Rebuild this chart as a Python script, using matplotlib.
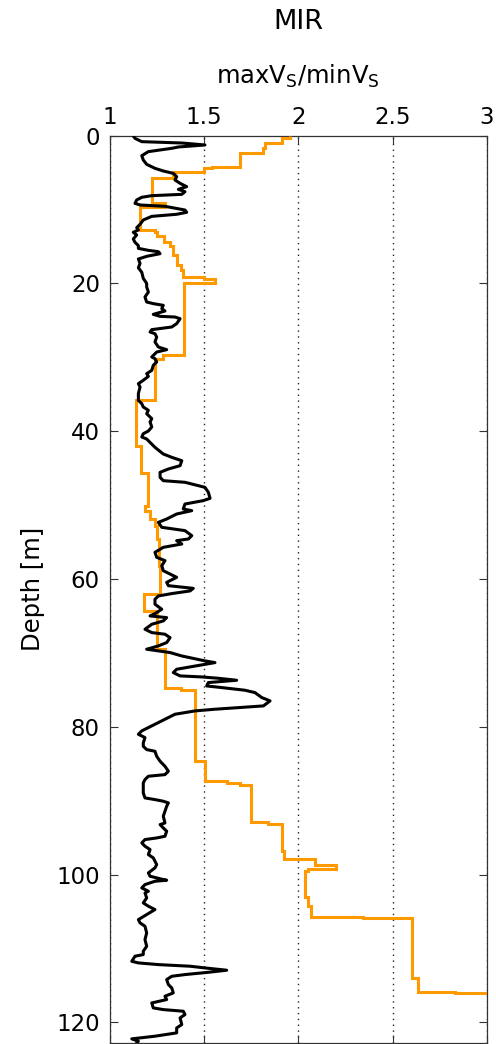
import numpy as np
import matplotlib
matplotlib.use("Agg")
import matplotlib.pyplot as plt

# ---------------- data ----------------
# black curve: MIR profile (depth [m], value)
black_depth = [
    0.05, 0.37, 0.82, 1.0, 1.27, 1.54, 1.72, 2.17, 2.72, 3.3, 3.89, 4.43, 4.79, 5.11, 5.56, 6.01, 6.46, 6.91,
    7.27, 7.59, 7.95, 8.13, 8.35, 8.71, 9.17, 9.39, 9.57, 10.07, 10.38, 10.65, 10.93, 11.42, 12.01, 12.46,
    12.77, 13.09, 13.45, 13.99, 14.44, 14.89, 15.26, 15.53, 15.71, 15.98, 16.34, 16.7, 17.29, 17.88, 18.5,
    19.32, 20.0,
    20.49, 21.17, 21.84, 22.52, 22.74, 22.97, 23.42, 23.74, 24.19, 24.46, 24.55, 24.78, 25.45, 25.9, 26.26,
    26.58, 26.81, 27.26, 27.93, 28.61, 28.97, 29.29, 29.96, 30.19, 30.64, 31.09, 31.77, 32.22, 32.58, 33.12,
    33.57, 34.02, 34.92, 35.83, 36.28, 36.73, 37.18, 37.63, 38.31, 38.76, 39.43, 39.98, 40.34, 40.79, 41.06,
    41.29, 42.19, 43.09, 43.54, 44.0, 44.67, 45.12, 45.57, 46.25, 46.7, 46.92, 47.6, 48.28, 49.09, 49.4,
    49.86, 50.53, 50.76, 51.21, 51.89, 52.34, 53.01, 53.46, 54.14, 54.59, 54.82, 55.27, 55.72, 56.4, 57.07,
    57.52, 58.2, 58.88, 59.78, 60.46, 60.91, 61.27,
    61.62, 61.98, 62.3, 62.75, 63.42, 64.1, 64.69, 65.0, 65.23, 65.68, 66.13, 66.81, 67.26, 67.48, 67.94,
    68.61, 69.06, 69.51, 69.96, 70.42, 71.09, 71.32, 71.63, 72.22, 72.67, 73.12, 73.26, 73.44, 73.71, 74.02,
    74.48, 74.7, 75.06, 75.38, 76.05, 76.5, 77.18, 77.41, 77.63, 77.86, 78.31, 78.76, 79.44, 80.11, 80.56,
    81.02, 81.47,
    82.19, 82.64, 83.09, 83.32, 83.99, 84.67, 85.35, 86.02, 86.48, 86.7, 87.15, 87.6, 88.96, 89.63, 89.86,
    90.08, 90.31, 90.76, 92.11, 93.02, 93.24, 93.69, 94.14, 94.82, 95.05, 95.27, 95.72, 96.17, 96.62, 97.3,
    97.75, 98.65, 99.1, 99.78, 100.23, 100.68, 100.77, 100.91, 101.36, 101.81, 102.26,
    102.49, 103.17, 103.84, 104.29, 104.74, 105.42, 106.1, 106.55, 107.0, 107.9, 108.8, 109.71, 110.38,
    110.83, 111.06, 111.74, 111.96, 112.19, 112.41, 112.64, 112.95, 113.23, 113.54, 113.77, 114.22, 114.89,
    115.35, 116.02, 116.47, 116.92, 117.38, 118.05, 118.28, 118.5, 118.95, 119.4, 120.31, 120.76, 121.43,
    121.88, 122.24, 122.56, 122.83,
]
black_mir = [
    1.125, 1.134, 1.17, 1.382, 1.505, 1.364, 1.329, 1.205, 1.17, 1.178, 1.196, 1.24, 1.284, 1.337, 1.355,
    1.346, 1.373, 1.408, 1.364, 1.399, 1.382, 1.223, 1.17, 1.143, 1.134, 1.161, 1.293, 1.399, 1.408, 1.355,
    1.223, 1.178, 1.161, 1.143, 1.152, 1.125, 1.143, 1.125, 1.134, 1.152, 1.152, 1.205, 1.258, 1.267, 1.196,
    1.152, 1.161, 1.152, 1.17, 1.178, 1.196,
    1.196, 1.205, 1.187, 1.196, 1.231, 1.284, 1.276, 1.293, 1.231, 1.267, 1.346, 1.373, 1.355, 1.329, 1.223,
    1.214, 1.24, 1.249, 1.24, 1.258, 1.302, 1.249, 1.223, 1.24, 1.249, 1.231, 1.223, 1.196, 1.205, 1.178,
    1.152, 1.161, 1.152, 1.152, 1.17, 1.178, 1.205, 1.196, 1.223, 1.214, 1.223, 1.205, 1.178, 1.17, 1.196,
    1.205, 1.24, 1.284, 1.329, 1.382, 1.373, 1.311, 1.267, 1.267, 1.284, 1.399, 1.505, 1.523, 1.532, 1.496,
    1.399, 1.39, 1.435, 1.355, 1.302, 1.258, 1.276, 1.399, 1.435, 1.417, 1.355, 1.382, 1.284, 1.24, 1.249,
    1.293, 1.276, 1.284, 1.355, 1.302, 1.311, 1.443,
    1.426, 1.329, 1.258, 1.24, 1.24, 1.276, 1.24, 1.214, 1.302, 1.284, 1.223, 1.187, 1.223, 1.293, 1.32,
    1.302, 1.258, 1.196, 1.32, 1.382, 1.505, 1.558, 1.488, 1.355, 1.337, 1.373, 1.488, 1.576, 1.673, 1.523,
    1.514, 1.594, 1.717, 1.77, 1.806, 1.85, 1.815, 1.682, 1.558, 1.452, 1.346, 1.311, 1.258, 1.205, 1.17,
    1.152, 1.187,
    1.178, 1.178, 1.196, 1.24, 1.249, 1.267, 1.293, 1.311, 1.293, 1.205, 1.187, 1.178, 1.178, 1.187, 1.24,
    1.284, 1.311, 1.302, 1.284, 1.293, 1.267, 1.284, 1.302, 1.293, 1.249, 1.187, 1.17, 1.187, 1.214, 1.205,
    1.231, 1.249, 1.24, 1.205, 1.214, 1.284, 1.302, 1.24, 1.187, 1.17, 1.205,
    1.187, 1.196, 1.178, 1.205, 1.24, 1.196, 1.152, 1.161, 1.187, 1.196, 1.187, 1.196, 1.178, 1.178, 1.134,
    1.117, 1.152, 1.258, 1.426, 1.505, 1.62, 1.523, 1.399, 1.329, 1.302, 1.311, 1.329, 1.337, 1.293, 1.302,
    1.223, 1.231, 1.284, 1.39, 1.399, 1.373, 1.382, 1.355, 1.355, 1.24, 1.117, 1.152, 1.143,
]

# orange curve: layered model (layer boundaries [m] and value per layer)
orange_edges = [
    0, 0.37, 1.05, 1.72, 2.4, 4.2, 4.43, 4.88, 5.78, 9.17, 9.62, 12.77, 13.0, 13.6, 14.35, 15.0, 16.16, 17.5,
    18.2, 19.09, 19.4, 20.0, 29.74, 30.19, 35.83, 42.0, 45.6, 50.1, 50.8, 51.9, 52.8, 54.6, 58.2, 62.07,
    64.33, 69.51, 74.79, 75.0, 84.67, 87.38, 87.6, 87.83, 92.88, 93.1, 96.85, 97.89, 98.7, 99.2, 99.5, 103.0,
    104.3, 105.78, 105.9, 114.0, 115.84, 116.0, 122.8,
]
orange_mir = [
    1.955, 1.912, 1.823, 1.815, 1.69, 1.54, 1.50, 1.337, 1.223, 1.293, 1.16, 1.24, 1.25, 1.29, 1.32, 1.337,
    1.355, 1.38, 1.39, 1.50, 1.56, 1.394, 1.285, 1.24, 1.14, 1.165, 1.205, 1.185, 1.214, 1.24, 1.25, 1.26,
    1.265, 1.184, 1.25, 1.293, 1.38, 1.45, 1.505, 1.62, 1.69, 1.747, 1.84, 1.912, 1.926, 2.09, 2.20, 2.05,
    2.036, 2.053, 2.066, 2.345, 2.601, 2.636, 2.83, 3.1,
]

x_ticks = [1, 1.5, 2, 2.5, 3]
x_ticklabels = ["1", "1.5", "2", "2.5", "3"]
y_ticks = [0, 20, 40, 60, 80, 100, 120]
y_ticklabels = ["0", "20", "40", "60", "80", "100", "120"]

# ---------------- figure ----------------
plt.rcParams["font.family"] = ["DejaVu Sans"]
plt.rcParams["mathtext.default"] = "regular"

W, H = 496, 1044
fig = plt.figure(figsize=(W / 100, H / 100), dpi=100)
ax = fig.add_axes([109.7 / W, 1.0 / H, (487.0 - 109.7) / W, (1043.0 - 135.6) / H])

ax.stairs(orange_mir, orange_edges, orientation="horizontal", baseline=None,
          color="#FF9900", linewidth=2.2, zorder=3)
ax.plot(black_mir, black_depth, color="black", linewidth=2.2, zorder=4)

ax.set_xlim(1, 3)
ax.set_ylim(122.8, 0)

ax.set_xticks(x_ticks)
ax.set_xticklabels(x_ticklabels)
ax.set_yticks(y_ticks)
ax.set_yticklabels(y_ticklabels)

ax.xaxis.tick_top()
ax.xaxis.set_label_position("top")
ax.tick_params(axis="both", direction="in", top=True, bottom=True, left=True, right=True,
               labeltop=True, labelbottom=False, length=6, width=0.8, labelsize=16.5,
               color="#333333")
ax.tick_params(axis="x", pad=5)
ax.tick_params(axis="y", pad=7)

ax.grid(axis="x", color="#222222", linewidth=1.0, linestyle=(0, (1, 3.2)), zorder=1)
ax.grid(axis="y", visible=False)

for s in ax.spines.values():
    s.set_color("#333333")
    s.set_linewidth(0.9)

ax.set_xlabel("maxV$_S$/minV$_S$", fontsize=17.5, labelpad=16)
ax.set_ylabel("Depth [m]", fontsize=17.5, labelpad=8)
ax.set_title("MIR", fontsize=19.5, pad=24)

fig.savefig("out.png", dpi=100)
